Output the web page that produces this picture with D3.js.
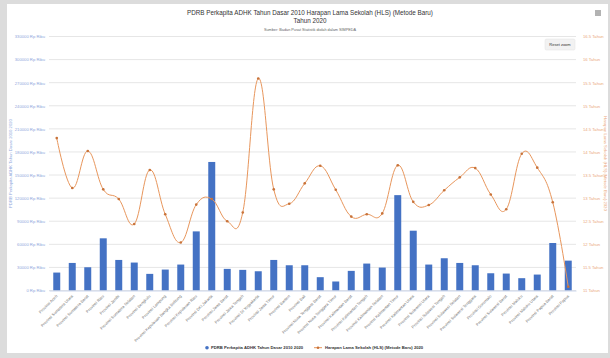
<!DOCTYPE html>
<html>
<head>
<meta charset="utf-8">
<script src="https://cdn.jsdelivr.net/npm/d3@7"></script>
<style>
  html, body { margin: 0; padding: 0; background: #dcdcdc; }
  svg { display: block; font-family: "Liberation Sans", Arial, sans-serif; }
</style>
</head>
<body>
<svg id="chart" width="610" height="358"></svg>
<script>
// Provinces (BPS order)
const provinces = [
  "Provinsi Aceh", "Provinsi Sumatera Utara", "Provinsi Sumatera Barat", "Provinsi Riau",
  "Provinsi Jambi", "Provinsi Sumatera Selatan", "Provinsi Bengkulu", "Provinsi Lampung",
  "Provinsi Kepulauan Bangka Belitung", "Provinsi Kepulauan Riau", "Provinsi DKI Jakarta",
  "Provinsi Jawa Barat", "Provinsi Jawa Tengah", "Provinsi DI Yogyakarta", "Provinsi Jawa Timur",
  "Provinsi Banten", "Provinsi Bali", "Provinsi Nusa Tenggara Barat", "Provinsi Nusa Tenggara Timur",
  "Provinsi Kalimantan Barat", "Provinsi Kalimantan Tengah", "Provinsi Kalimantan Selatan",
  "Provinsi Kalimantan Timur", "Provinsi Kalimantan Utara", "Provinsi Sulawesi Utara",
  "Provinsi Sulawesi Tengah", "Provinsi Sulawesi Selatan", "Provinsi Sulawesi Tenggara",
  "Provinsi Gorontalo", "Provinsi Sulawesi Barat", "Provinsi Maluku", "Provinsi Maluku Utara",
  "Provinsi Papua Barat", "Provinsi Papua"
];

// PDRB per kapita ADHK 2010, 2020 (Rp ribu)
const pdrb = [
  23300, 35800, 30200, 67800, 39700, 36300, 21600, 27200, 33700, 76800, 167000,
  28100, 26800, 25000, 39700, 32800, 32800, 17300, 11700, 25500, 35000, 29800,
  123900, 77700, 33700, 41900, 35800, 32800, 22400, 22000, 16000, 20700, 61700, 38800
];

// Harapan Lama Sekolah (tahun), 2020
const hls = [
  14.30, 13.22, 14.02, 13.19, 12.98, 12.44, 13.61, 12.65, 12.04, 12.86, 12.98,
  12.50, 12.69, 15.59, 13.19, 12.88, 13.32, 13.70, 13.18, 12.60, 12.65, 12.67,
  13.71, 12.92, 12.85, 13.17, 13.45, 13.65, 13.08, 12.76, 13.96, 13.66, 12.91, 11.08
];

const leftTicks = d3.range(0, 330001, 30000);
const rightTicks = d3.range(11, 16.51, 0.5);

const titleText = "PDRB Perkapita ADHK Tahun Dasar 2010 Harapan Lama Sekolah (HLS) (Metode Baru)";
const titleText2 = "Tahun 2020";
const subtitleText = "Sumber: Badan Pusat Statistik diolah dalam SIMPEDA";
const barName = "PDRB Perkapita ADHK Tahun Dasar 2010 2020";
const lineName = "Harapan Lama Sekolah (HLS) (Metode Baru) 2020";

const svg = d3.select("#chart");
const plot = { left: 49, right: 576, top: 36.5, bottom: 290.5 };

// card background
svg.append("rect").attr("x", 7).attr("y", 4).attr("width", 601).attr("height", 349)
  .attr("fill", "#ffffff");

const x = d3.scaleBand().domain(provinces).range([plot.left, plot.right])
  .paddingInner(0.55).paddingOuter(0.275);
const yL = d3.scaleLinear().domain([0, 330000]).range([plot.bottom, plot.top]);
const yR = d3.scaleLinear().domain([11, 16.5]).range([plot.bottom, plot.top]);

// gridlines
svg.append("g").selectAll("line").data(leftTicks).join("line")
  .attr("x1", plot.left).attr("x2", plot.right)
  .attr("y1", d => yL(d)).attr("y2", d => yL(d))
  .attr("stroke", "#e6e6e6").attr("stroke-width", 1);

// left axis
const fmtL = d => d + " Rp Ribu";
const axL = svg.append("g").attr("transform", `translate(${plot.left - 4},0)`)
  .call(d3.axisLeft(yL).tickValues(leftTicks).tickFormat(fmtL).tickSize(0).tickPadding(0));
axL.select(".domain").remove();
axL.selectAll("text").attr("fill", "#8fa8dc").attr("font-size", 4.2).attr("font-family", "Liberation Sans, Arial, sans-serif");

// right axis
const fmtR = d => d + " Tahun";
const axR = svg.append("g").attr("transform", `translate(${plot.right + 7},0)`)
  .call(d3.axisRight(yR).tickValues(rightTicks).tickFormat(fmtR).tickSize(0).tickPadding(0));
axR.select(".domain").remove();
axR.selectAll("text").attr("fill", "#eaa77a").attr("font-size", 4.2).attr("font-family", "Liberation Sans, Arial, sans-serif");

// axis titles
svg.append("text").attr("transform", `translate(12,${(plot.top + plot.bottom) / 2}) rotate(-90)`)
  .attr("text-anchor", "middle").attr("font-size", 4.2).attr("fill", "#8fa8dc").text(barName);
svg.append("text").attr("transform", `translate(604,${(plot.top + plot.bottom) / 2}) rotate(90)`)
  .attr("text-anchor", "middle").attr("font-size", 4.2).attr("fill", "#eaa77a").text(lineName);

// bars
svg.append("g").selectAll("rect").data(provinces).join("rect")
  .attr("x", d => x(d)).attr("width", x.bandwidth())
  .attr("y", (d, i) => yL(pdrb[i]))
  .attr("height", (d, i) => yL(0) - yL(pdrb[i]))
  .attr("fill", "#4472c4");

// x axis
const axX = svg.append("g").attr("transform", `translate(0,${plot.bottom})`)
  .call(d3.axisBottom(x).tickSize(0).tickPadding(0));
axX.select(".domain").attr("stroke", "#ccd6eb");
axX.selectAll("text")
  .attr("font-size", 4).attr("fill", "#777777")
  .attr("text-anchor", "end").attr("dy", 0)
  .attr("transform", "translate(1,6) rotate(-45)");

// HLS spline
const cx = (d, i) => x(provinces[i]) + x.bandwidth() / 2;
const line = d3.line().x((d, i) => cx(d, i)).y(d => yR(d)).curve(d3.curveCardinal.tension(-0.2));
svg.append("path").datum(hls).attr("d", line)
  .attr("fill", "none").attr("stroke", "#e8965c").attr("stroke-width", 1);
svg.append("g").selectAll("circle").data(hls).join("circle")
  .attr("cx", (d, i) => cx(d, i)).attr("cy", d => yR(d)).attr("r", 1.3)
  .attr("fill", "#c8733a");

// titles
svg.append("text").attr("x", 310).attr("y", 15).attr("text-anchor", "middle")
  .attr("font-size", 6.3).attr("fill", "#333333").text(titleText);
svg.append("text").attr("x", 310).attr("y", 23).attr("text-anchor", "middle")
  .attr("font-size", 6.3).attr("fill", "#333333").text(titleText2);
svg.append("text").attr("x", 310).attr("y", 31).attr("text-anchor", "middle")
  .attr("font-size", 3.8).attr("fill", "#666666").text(subtitleText);

// reset zoom button
const btn = svg.append("g");
btn.append("rect").attr("x", 545).attr("y", 39).attr("width", 30).attr("height", 11).attr("rx", 1.5)
  .attr("fill", "#f2f2f2").attr("stroke", "#e3e3e3").attr("stroke-width", 0.5);
btn.append("text").attr("x", 560).attr("y", 46).attr("text-anchor", "middle")
  .attr("font-size", 4).attr("fill", "#333333").text("Reset zoom");

// menu icon
svg.append("g").selectAll("line").data([0, 1, 2]).join("line")
  .attr("x1", 595).attr("x2", 601).attr("y1", d => 11 + d * 2).attr("y2", d => 11 + d * 2)
  .attr("stroke", "#666666").attr("stroke-width", 1);

// legend
const lg = svg.append("g").attr("transform", "translate(0,349)");
lg.append("circle").attr("cx", 207).attr("cy", -1.3).attr("r", 1.8).attr("fill", "#4472c4");
lg.append("text").attr("x", 211).attr("y", 0).attr("font-size", 4.2).attr("font-weight", "bold")
  .attr("fill", "#333333").text(barName);
lg.append("line").attr("x1", 314).attr("x2", 322).attr("y1", -1.3).attr("y2", -1.3)
  .attr("stroke", "#e8965c").attr("stroke-width", 1);
lg.append("circle").attr("cx", 318).attr("cy", -1.3).attr("r", 1.3).attr("fill", "#c8733a");
lg.append("text").attr("x", 325).attr("y", 0).attr("font-size", 4.2).attr("font-weight", "bold")
  .attr("fill", "#333333").text(lineName);
</script>
</body>
</html>
